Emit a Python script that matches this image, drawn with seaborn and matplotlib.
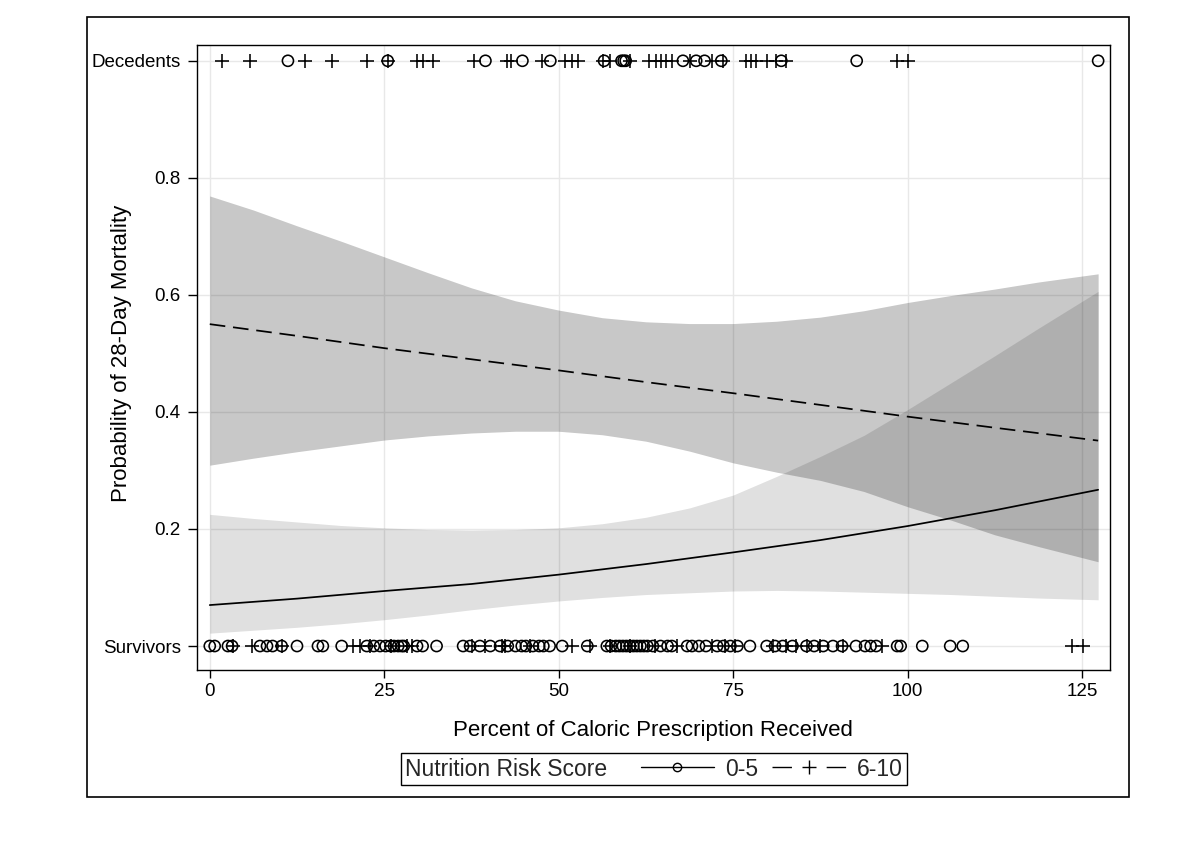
import matplotlib
matplotlib.use("Agg")
import matplotlib.pyplot as plt
from matplotlib.lines import Line2D
from matplotlib.patches import Rectangle
from matplotlib.offsetbox import HPacker
import seaborn as sns

# observed outcomes (percent of caloric prescription received), by nutrition risk score
decedents_05 = [11.2, 25.5, 39.5, 44.8, 48.8, 56.5, 59.0, 59.3, 59.6, 67.8, 69.7, 70.9,
                73.3, 81.9, 92.7, 127.3]
decedents_610 = [1.7, 5.7, 13.6, 17.5, 22.6, 25.5, 29.7, 30.5, 32.0, 37.8, 42.6, 43.1,
                 47.6, 50.9, 51.9, 52.8, 56.3, 57.3, 60.2, 62.9, 63.9, 64.6, 65.4, 66.2,
                 68.8, 72.0, 73.5, 76.9, 77.6, 78.3, 79.8, 81.2, 82.6, 98.5, 100.1]
survivors_05 = [0.0, 0.7, 2.6, 3.2, 7.2, 8.2, 9.0, 10.3, 12.5, 15.5, 16.2, 18.9, 22.5,
                23.5, 24.4, 25.2, 25.9, 26.4, 27.0, 27.5, 27.8, 29.7, 30.5, 32.5, 36.3,
                37.3, 38.7, 40.2, 41.6, 42.7, 43.8, 44.7, 45.3, 46.3, 47.2, 47.8, 48.7,
                50.5, 54.1, 56.9, 57.5, 58.2, 58.7, 59.2, 59.7, 60.2, 60.7, 61.2, 61.7,
                62.2, 62.7, 63.5, 64.6, 65.6, 66.2, 68.4, 69.1, 70.1, 71.1, 72.7, 73.6,
                74.6, 75.6, 77.4, 79.8, 81.0, 82.1, 83.5, 85.5, 86.6, 87.9, 89.3, 90.6,
                92.6, 93.9, 94.7, 95.5, 98.5, 99.0, 102.1, 106.1, 107.9]
survivors_610 = [3.3, 6.1, 10.3, 20.5, 21.5, 23.0, 25.9, 28.2, 29.0, 37.6, 39.4, 41.9,
                 42.3, 45.9, 51.9, 54.5, 57.3, 60.2, 63.8, 66.9, 72.0, 73.8, 75.3, 80.7,
                 82.6, 84.0, 85.6, 87.4, 90.7, 96.3, 123.6, 125.1]

# fitted probabilities
pct = [0, 12.5, 25, 37.5, 50, 62.5, 75, 87.5, 100, 112.5, 127.3]
pred_05 = [0.070, 0.081, 0.094, 0.106, 0.122, 0.140, 0.160, 0.181, 0.205, 0.232, 0.267]
pred_610 = [0.550, 0.530, 0.509, 0.490, 0.471, 0.451, 0.432, 0.412, 0.392, 0.373, 0.351]

# confidence limits
pct_band = [0, 6.25, 12.5, 18.75, 25, 31.25, 37.5, 43.75, 50, 56.25, 62.5, 68.75, 75,
            81.25, 87.5, 93.75, 100, 106.25, 112.5, 118.75, 127.3]
upper_05 = [0.225, 0.218, 0.212, 0.206, 0.202, 0.199, 0.198, 0.199, 0.202, 0.209, 0.220,
            0.236, 0.258, 0.290, 0.324, 0.360, 0.404, 0.450, 0.496, 0.543, 0.606]
lower_05 = [0.022, 0.027, 0.032, 0.038, 0.045, 0.053, 0.062, 0.070, 0.077, 0.083, 0.088,
            0.091, 0.094, 0.095, 0.094, 0.092, 0.090, 0.088, 0.085, 0.082, 0.079]
upper_610 = [0.769, 0.745, 0.718, 0.692, 0.665, 0.638, 0.612, 0.590, 0.574, 0.561, 0.554,
             0.551, 0.551, 0.555, 0.562, 0.573, 0.587, 0.599, 0.610, 0.622, 0.636]
lower_610 = [0.309, 0.321, 0.332, 0.342, 0.352, 0.359, 0.364, 0.367, 0.367, 0.361, 0.350,
             0.333, 0.313, 0.297, 0.283, 0.264, 0.238, 0.215, 0.190, 0.170, 0.144]

xticks = [0, 25, 50, 75, 100, 125]
yticks = [0, 0.2, 0.4, 0.6, 0.8, 1.0]
yticklabels = ["Survivors", "0.2", "0.4", "0.6", "0.8", "Decedents"]

sns.set_theme(style="whitegrid")
plt.rcParams['font.family'] = ['Liberation Sans', 'DejaVu Sans']

fig = plt.figure(figsize=(12, 8.41), dpi=100)
ax = fig.add_axes([0.164, 0.2033, 0.761, 0.7432])

# confidence bands
ax.fill_between(pct_band, lower_05, upper_05, color="black", alpha=0.12, lw=0, zorder=1)
ax.fill_between(pct_band, lower_610, upper_610, color="black", alpha=0.215, lw=0, zorder=1)

# fitted curves
sns.lineplot(x=pct, y=pred_05, color="black", lw=1.25, ax=ax, zorder=3)
sns.lineplot(x=pct, y=pred_610, color="black", lw=1.25, linestyle=(0, (9, 4.5)), ax=ax, zorder=3)

# observed points
circ = dict(marker="o", s=64, facecolor="none", edgecolor="black", linewidth=1.15, zorder=4)
plus = dict(marker="+", s=95, color="black", linewidth=1.15, zorder=4)
sns.scatterplot(x=decedents_05, y=[1.0] * len(decedents_05), ax=ax, **circ)
sns.scatterplot(x=survivors_05, y=[0.0] * len(survivors_05), ax=ax, **circ)
sns.scatterplot(x=decedents_610, y=[1.0] * len(decedents_610), ax=ax, **plus)
sns.scatterplot(x=survivors_610, y=[0.0] * len(survivors_610), ax=ax, **plus)

ax.set_xlim(-1.86, 129.0)
ax.set_ylim(-0.041, 1.027)
ax.set_xticks(xticks)
ax.set_yticks(yticks)
ax.set_yticklabels(yticklabels)
ax.grid(True, color="#e8e8e8", lw=1)
for s in ax.spines.values():
    s.set_color("black")
    s.set_linewidth(1)
ax.tick_params(axis="both", direction="out", width=1, color="black",
               labelsize=13.5, labelcolor="black", left=True, bottom=True)
ax.tick_params(axis="x", length=6, pad=3)
ax.tick_params(axis="y", length=6.5, pad=5)

ax.set_xlabel("Percent of Caloric Prescription Received", fontsize=16, color="black")
ax.set_ylabel("Probability of 28-Day Mortality", fontsize=16, color="black")
ax.xaxis.set_label_coords(0.5, -0.08)
ax.yaxis.set_label_coords(-0.071, 0.506)

# legend: title on the same row as the entries
handles = [
    Line2D([], [], color="black", lw=1, marker="o", mfc="none", mec="black", ms=6, mew=1),
    Line2D([], [], color="black", lw=1, ls=(0, (14, 25)), marker="+", ms=10, mew=1),
]
leg = ax.legend(handles, ["0-5", "6-10"], title="Nutrition Risk Score", ncol=2,
                loc="center", bbox_to_anchor=(0.545, 0.0856), bbox_transform=fig.transFigure,
                frameon=True, fancybox=False, shadow=False, edgecolor="black",
                fontsize=16.5, title_fontsize=16.5, handlelength=3.2, handletextpad=0.5,
                columnspacing=0.6, borderpad=0.2, numpoints=1, framealpha=1)
leg.get_frame().set_linewidth(1)
old_box = leg._legend_box
new_box = HPacker(pad=old_box.pad, sep=24, align="center", children=old_box.get_children())
new_box.set_figure(fig)
new_box.axes = ax
new_box.set_offset(leg._findoffset)
leg._legend_box = new_box

# outer frame around the whole graph
fig.add_artist(Rectangle((0.0725, 0.0523), 0.868, 0.9275, transform=fig.transFigure,
                         fill=False, edgecolor="black", lw=1.2))

fig.savefig("out.png", dpi=100, facecolor="white")
